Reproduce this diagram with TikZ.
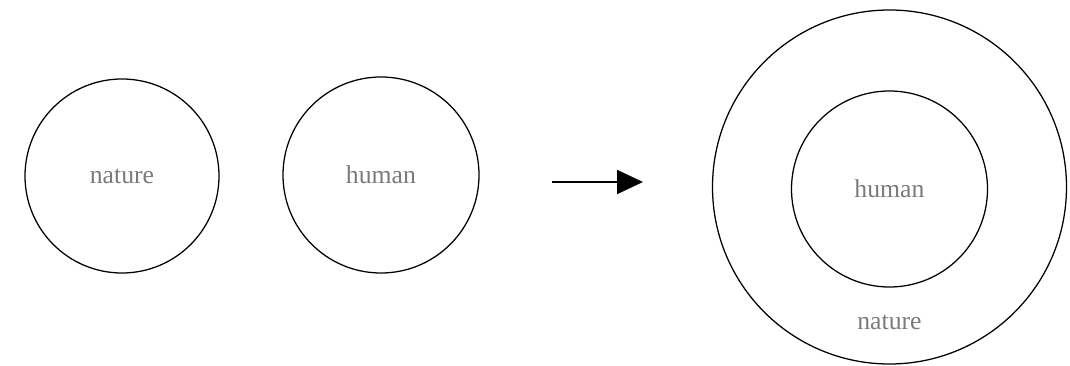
\documentclass[tikz,border=0pt]{standalone}
\usepackage{fontspec}
\setmainfont{Liberation Serif}
\usepackage{tikz}
\usetikzlibrary{positioning, arrows.meta}
\tikzset{font=\fontsize{18.3}{22}\selectfont}

\begin{document}
\begin{tikzpicture}[>={Triangle[length=0.65cm,width=0.6cm]},
                ring/.style={circle,draw=black,line width=0.9pt,text=black!52},
                word/.style={inner sep=0pt,text=black!52}]
                \useasboundingbox (0,0) rectangle (26.75,9.15);
                % two separate circles
                \node[ring,minimum size=4.85cm] (nat) at (3.05,4.75) {nature};
                \node[ring,minimum size=4.9cm] (hum) at (9.525,4.775) {human};
                % arrow
                \coordinate (from) at (13.8,4.6);
                \coordinate (to) at (16.075,4.6);
                \draw[->,line width=1.5pt] (from) -- (to);
                % nested circles
                \node[ring,minimum size=8.85cm] (outer) at (22.2375,4.475) {};
                \node[ring,minimum size=4.9cm] (inner) at (22.2375,4.425) {human};
                \node[word,below=0.69cm of inner] (outerlbl) {nature};
            \end{tikzpicture}
\end{document}
